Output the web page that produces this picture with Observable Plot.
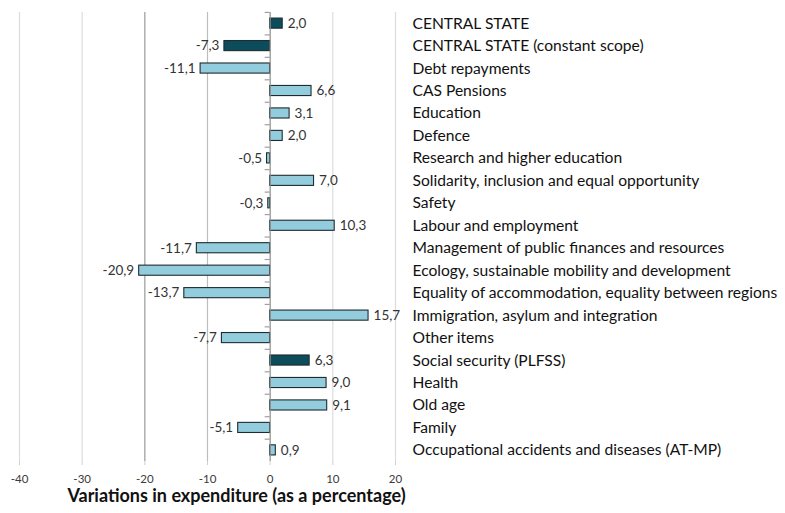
<!DOCTYPE html>
<html>
<head>
<meta charset="utf-8">
<script src="https://cdn.jsdelivr.net/npm/d3@7"></script>
<script src="https://cdn.jsdelivr.net/npm/@observablehq/plot@0.6"></script>
<style>
  html, body { margin: 0; padding: 0; background: #fff; overflow: hidden; }
  #chart svg { display: block; }
</style>
</head>
<body>
<div id="chart"></div>
<script>
const categories = [
  "CENTRAL STATE",
  "CENTRAL STATE (constant scope)",
  "Debt repayments",
  "CAS Pensions",
  "Education",
  "Defence",
  "Research and higher education",
  "Solidarity, inclusion and equal opportunity",
  "Safety",
  "Labour and employment",
  "Management of public finances and resources",
  "Ecology, sustainable mobility and development",
  "Equality of accommodation, equality between regions",
  "Immigration, asylum and integration",
  "Other items",
  "Social security (PLFSS)",
  "Health",
  "Old age",
  "Family",
  "Occupational accidents and diseases (AT-MP)"
];
const values = [2.0, -7.3, -11.1, 6.6, 3.1, 2.0, -0.5, 7.0, -0.3, 10.3, -11.7, -20.9, -13.7, 15.7, -7.7, 6.3, 9.0, 9.1, -5.1, 0.9];
const totals = ["CENTRAL STATE", "CENTRAL STATE (constant scope)", "Social security (PLFSS)"];
const xTicks = [-40, -30, -20, -10, 0, 10, 20];
const axisTitle = "Variations in expenditure (as a percentage)";

const data = categories.map((c, i) => ({category: c, value: values[i], total: totals.includes(c)}));
const fmt = v => v.toFixed(1).replace(".", ",");

const gridColor = t => t === -20 ? "#9a9a9a" : t === -10 ? "#bdbdbd" : "#dcdcdc";

const chart = Plot.plot({
  width: 785,
  height: 513,
  marginLeft: 19,
  marginRight: 390,
  marginTop: 12,
  marginBottom: 52,
  style: {fontFamily: "Lato, 'Open Sans', sans-serif", background: "#fff"},
  x: {domain: [-40, 20], ticks: xTicks},
  y: {domain: categories, paddingInner: 0.55, paddingOuter: 0.27, round: false},
  marks: [
    Plot.ruleX(xTicks.filter(t => t !== 0), {x: d => d, stroke: gridColor, strokeWidth: 1.2}),
    Plot.ruleY([0], {frameAnchor: "bottom", stroke: "#d0d0d0", strokeWidth: 1.2}),
    Plot.axisX({
      ticks: xTicks, tickSize: 4, tickPadding: 9, stroke: "#d0d0d0",
      tickFormat: d => String(d), fontSize: 11.5, color: "#3a3a3a", label: null
    }),
    Plot.axisY({
      anchor: "right", tickSize: 0, tickPadding: 17, fontSize: 15.6,
      color: "#111", label: null, textAnchor: "start"
    }),
    Plot.ruleY(categories, {y: d => d, x1: -0.8, x2: 0, dy: -11.2, stroke: "#a0a0a0", strokeWidth: 1.2}),
    Plot.barX(data, {
      y: "category", x1: 0, x2: "value",
      fill: d => d.total ? "#0d4c5b" : "#93cddd",
      stroke: "#1e2b2f", strokeWidth: 1.1
    }),
    Plot.ruleX([0], {stroke: "#8c8c8c", strokeWidth: 1.2}),
    Plot.text(data, {
      y: "category", x: "value",
      text: d => fmt(d.value),
      textAnchor: "end",
      dx: -5,
      fill: "#333",
      fontSize: 13.5,
      filter: d => d.value < 0
    }),
    Plot.text(data, {
      y: "category", x: "value",
      text: d => fmt(d.value),
      textAnchor: "start",
      dx: 5,
      fill: "#333",
      fontSize: 13.5,
      filter: d => d.value >= 0
    }),
    Plot.text([axisTitle], {
      frameAnchor: "bottom", text: d => d, dy: 40, dx: 29,
      fontSize: 18, fontWeight: "bold", fill: "#111"
    })
  ]
});
document.getElementById("chart").appendChild(chart);
</script>
</body>
</html>
